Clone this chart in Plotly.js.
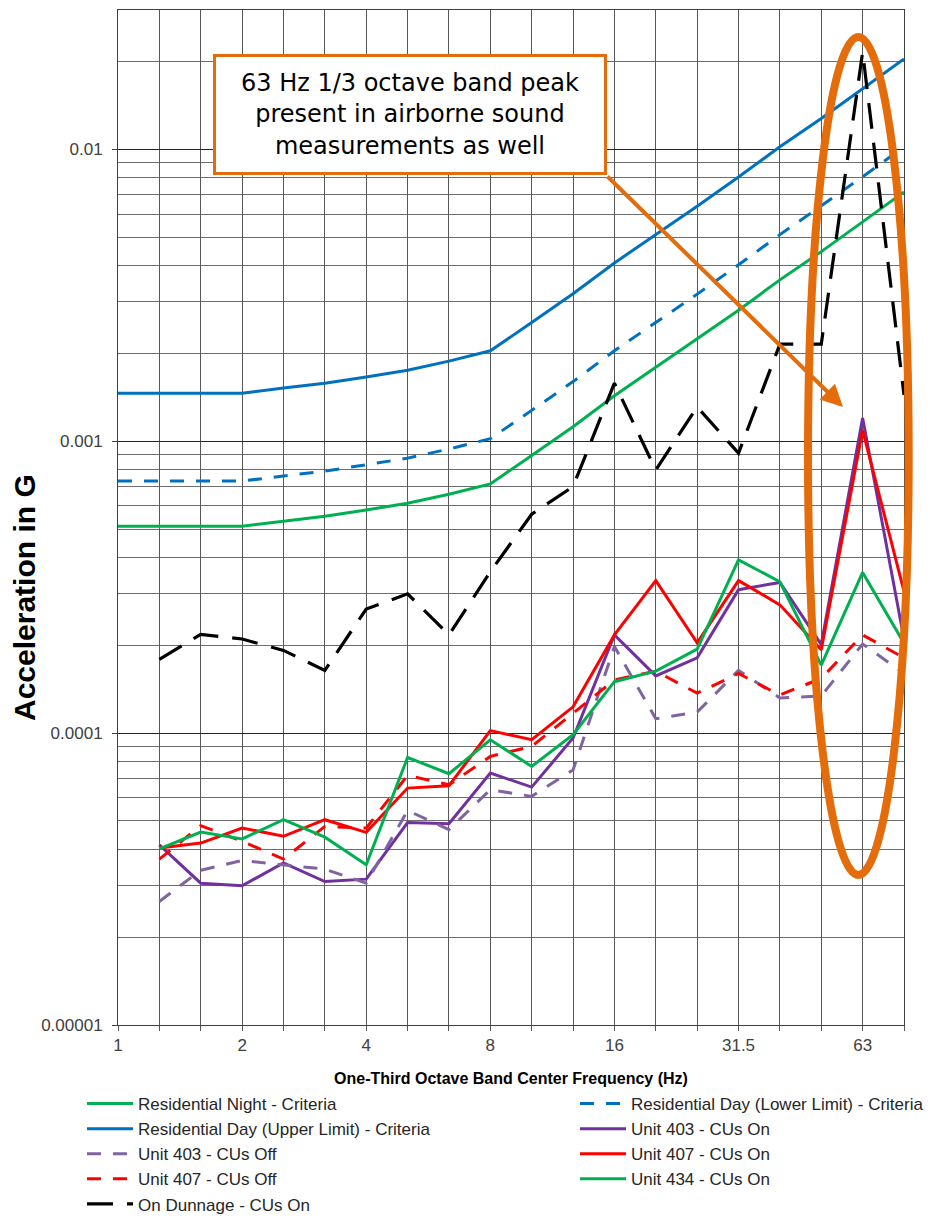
<!DOCTYPE html>
<html>
<head>
<meta charset="utf-8">
<script src="https://cdn.plot.ly/plotly-3.0.1.min.js"></script>
<style>html,body{margin:0;padding:0;background:#fff}#chart{width:930px;height:1218px}</style>
</head>
<body>
<div id="chart"></div>
<script>
// One-third octave band centre frequencies (Hz)
const bands = ['1','1.25','1.6','2','2.5','3.15','4','5','6.3','8','10','12.5','16','20','25','31.5','40','50','63','80'];
const bandTickLabels = ['1','','','2','','','4','','','8','','','16','','','31.5','','','63',''];
const measBands = bands.slice(1);

const yTickVals = [0.00001, 0.0001, 0.001, 0.01];
const yTickText = ['0.00001', '0.0001', '0.001', '0.01'];

// Criteria curves (G)
const residentialNight = [0.000511,0.000511,0.000511,0.000511,0.000532,0.000553,0.000581,0.000613,0.000658,0.000714,0.000893,0.00112,0.00143,0.00179,0.00223,0.00281,0.00357,0.00446,0.00564,0.00714];
const residentialDayLower = [0.00073,0.00073,0.00073,0.00073,0.00076,0.00079,0.00083,0.000875,0.00094,0.00102,0.001275,0.0016,0.00204,0.00255,0.00319,0.00402,0.0051,0.0064,0.00805,0.0102];
const residentialDayUpper = [0.00146,0.00146,0.00146,0.00146,0.00152,0.00158,0.00166,0.00175,0.00188,0.00204,0.00255,0.0032,0.00408,0.0051,0.00638,0.00803,0.0102,0.01275,0.0161,0.0204];

// Measurements (G), from 1.25 Hz to 80 Hz
const unit403On  = [0.0000414,0.0000306,0.0000300,0.0000359,0.0000310,0.0000316,0.0000494,0.0000489,0.0000730,0.0000653,0.0000962,0.000217,0.000157,0.000181,0.000310,0.000328,0.000201,0.00120,0.00021];
const unit403Off = [0.0000265,0.0000339,0.0000366,0.0000354,0.0000342,0.0000306,0.0000543,0.0000467,0.0000640,0.0000607,0.0000748,0.000198,0.000112,0.000118,0.000164,0.000132,0.000134,0.000202,0.000160];
const unit407On  = [0.0000404,0.0000420,0.0000473,0.0000443,0.0000505,0.0000457,0.0000648,0.0000660,0.000102,0.0000949,0.000123,0.000217,0.000333,0.000204,0.000333,0.000275,0.000193,0.00109,0.000306];
const unit407Off = [0.0000370,0.0000482,0.0000426,0.0000370,0.0000479,0.0000473,0.0000716,0.0000665,0.0000832,0.0000900,0.000117,0.000152,0.000163,0.000137,0.000160,0.000135,0.000154,0.000217,0.000181];
const unit434On  = [0.0000401,0.0000458,0.0000434,0.0000505,0.0000440,0.0000354,0.0000825,0.0000726,0.0000949,0.0000769,0.0000987,0.000150,0.000163,0.000194,0.000392,0.000330,0.000171,0.000355,0.000203];
const onDunnage  = [0.000179,0.000218,0.000210,0.000192,0.000164,0.000266,0.000300,0.000217,0.000357,0.000562,0.000699,0.00158,0.000797,0.00131,0.00091,0.00215,0.00215,0.0215,0.00144];

const ORANGE = '#E46C0A';
const SHORT_DASH = '14px,12px';

const traces = [
  {name:'Residential Night - Criteria', x:bands, y:residentialNight, line:{color:'#00B050', width:3}, legend:'legend'},
  {name:'Residential Day (Lower Limit) - Criteria', x:bands, y:residentialDayLower, line:{color:'#0070C0', width:3, dash:SHORT_DASH}, legend:'legend2'},
  {name:'Residential Day (Upper Limit) - Criteria', x:bands, y:residentialDayUpper, line:{color:'#0070C0', width:3}, legend:'legend'},
  {name:'Unit 403 - CUs On', x:measBands, y:unit403On, line:{color:'#7030A0', width:3}, legend:'legend2'},
  {name:'Unit 403 - CUs Off', x:measBands, y:unit403Off, line:{color:'#8064A2', width:3, dash:SHORT_DASH}, legend:'legend'},
  {name:'Unit 407 - CUs On', x:measBands, y:unit407On, line:{color:'#FF0000', width:3}, legend:'legend2'},
  {name:'Unit 407 - CUs Off', x:measBands, y:unit407Off, line:{color:'#FF0000', width:3, dash:SHORT_DASH}, legend:'legend'},
  {name:'Unit 434 - CUs On', x:measBands, y:unit434On, line:{color:'#00B050', width:3}, legend:'legend2'},
  {name:'On Dunnage - CUs On', x:measBands, y:onDunnage, line:{color:'#000000', width:3.2, dash:'26px,14px'}, legend:'legend'}
];
traces.forEach(t => { t.type = 'scatter'; t.mode = 'lines'; t.hoverinfo = 'skip'; });

// minor gridlines 2..9 within each decade
const minorVals = [];
for (let e = -5; e <= -2; e++) {
  for (let m = 2; m <= 9; m++) {
    const v = m * Math.pow(10, e);
    if (v < 0.0299) minorVals.push(v);
  }
}

// pixel -> paper helpers for the overlay (plot area 118..904 x 10..1025)
const PL = 118, PR = 904, PT = 10, PB = 1025;
const px = X => (X - PL) / (PR - PL);
const py = Y => (PB - Y) / (PB - PT);

const legendStyle = {
  orientation: 'v', xanchor: 'left', yanchor: 'top',
  itemwidth: 46, font: {size: 17, color: '#262626'}, traceorder: 'normal',
  bgcolor: 'rgba(0,0,0,0)', borderwidth: 0
};

const layout = {
  width: 930, height: 1218,
  margin: {l: PL, r: 930 - PR, t: PT, b: 1218 - PB, autoexpand: false},
  paper_bgcolor: '#ffffff', plot_bgcolor: '#ffffff',
  font: {family: 'Arial, "Liberation Sans", sans-serif', color: '#404040'},
  showlegend: true,
  xaxis: {
    type: 'category', range: [0, 19],
    tickmode: 'array', tickvals: bands, ticktext: bandTickLabels,
    showgrid: true, gridcolor: '#595959', gridwidth: 1,
    ticks: 'outside', ticklen: 5, tickcolor: '#595959',
    showline: true, linecolor: '#404040', linewidth: 1, mirror: true,
    zeroline: false,
    tickfont: {size: 17, color: '#404040'},
    title: {text: 'One-Third Octave Band Center Frequency (Hz)', standoff: 18,
            font: {size: 16, color: '#000000', weight: 'bold'}}
  },
  yaxis: {
    type: 'log', range: [-5, Math.log10(0.03)],
    tickmode: 'array', tickvals: yTickVals, ticktext: yTickText,
    showgrid: true, gridcolor: '#262626', gridwidth: 1,
    ticks: 'outside', ticklen: 5, tickcolor: '#404040',
    showline: true, linecolor: '#404040', linewidth: 1, mirror: true,
    zeroline: false,
    tickfont: {size: 17, color: '#404040'},
    ticklabelstandoff: 6,
    minor: {tickmode: 'array', tickvals: minorVals, showgrid: true, gridcolor: '#6e6e6e', gridwidth: 1, ticks: ''}
  },
  legend: Object.assign({}, legendStyle, {x: px(82), y: py(1086)}),
  legend2: Object.assign({}, legendStyle, {x: px(575), y: py(1086)}),
  annotations: [
    {text: 'Acceleration in G', xref: 'paper', yref: 'paper', x: px(24), y: py(598),
     xanchor: 'center', yanchor: 'middle', textangle: -90, showarrow: false,
     font: {size: 30, color: '#000000', weight: 'bold'}},
    {text: '63 Hz 1/3 octave band peak<br>present in airborne sound<br>measurements as well',
     xref: 'paper', yref: 'paper', x: px(409.5), y: py(114.5), xanchor: 'center', yanchor: 'middle',
     showarrow: false, width: 388, height: 115, align: 'center', valign: 'middle',
     bgcolor: '#ffffff', bordercolor: ORANGE, borderwidth: 3, borderpad: 0,
     font: {family: '"DejaVu Sans", Verdana, sans-serif', size: 24, color: '#000000'}},
    {text: '', xref: 'paper', yref: 'paper', x: px(843), y: py(407),
     showarrow: true, axref: 'pixel', ayref: 'pixel', ax: 606 - 843, ay: 175 - 407,
     arrowcolor: ORANGE, arrowwidth: 4, arrowhead: 2, arrowsize: 1.1, standoff: 0, startstandoff: 0}
  ],
  shapes: [
    {type: 'circle', xref: 'paper', yref: 'paper', x0: px(808), x1: px(908.7), y0: py(875), y1: py(37),
     line: {color: ORANGE, width: 8}, fillcolor: 'rgba(0,0,0,0)', layer: 'above'}
  ]
};

Plotly.newPlot('chart', traces, layout, {displayModeBar: false, staticPlot: true});
</script>
</body>
</html>
